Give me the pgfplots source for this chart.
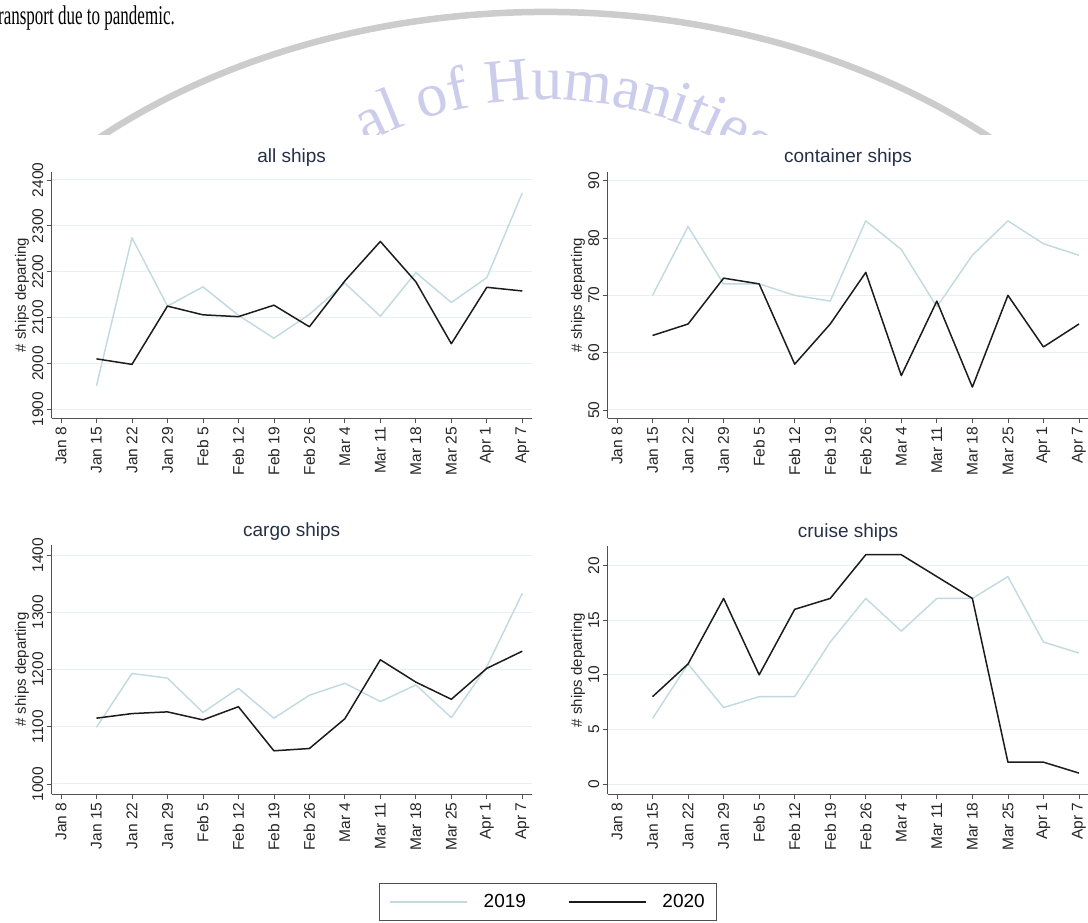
\documentclass[border=0pt]{standalone}
\usepackage{pgfplots}
\usepackage{pgfplotstable}
\pgfplotsset{compat=1.18}
\usepackage{fontspec}
\setmainfont{Liberation Sans}
\newfontfamily\seriffont{Liberation Serif}
\usetikzlibrary{decorations.text}

\definecolor{c19}{RGB}{192,218,224}
\definecolor{c20}{RGB}{28,28,28}
\definecolor{gridc}{RGB}{234,239,241}
\definecolor{axisc}{RGB}{80,80,80}
\definecolor{titlec}{RGB}{38,48,72}
\definecolor{wmtext}{RGB}{204,204,236}
\definecolor{wmarc}{RGB}{204,204,204}

\pgfplotstableread{
x a19 a20 c19 c20 g19 g20 r19 r20
1  1951 2010 70 63 1099 1115 6  8
2  2274 1998 82 65 1193 1123 11 11
3  2125 2125 72 73 1185 1126 7  17
4  2167 2106 72 72 1125 1112 8  10
5  2105 2102 70 58 1167 1135 8  16
6  2055 2127 69 65 1115 1058 13 17
7  2107 2080 83 74 1155 1062 17 21
8  2175 2180 78 56 1176 1114 14 21
9  2103 2266 68 69 1144 1217 17 19
10 2198 2178 77 54 1173 1178 17 17
11 2133 2043 83 70 1116 1148 19 2
12 2187 2166 79 61 1205 1202 13 2
13 2372 2158 77 65 1333 1232 12 1
}\data

\pgfplotsset{
  every axis title/.style={at={(axis description cs:0.5,1)}, anchor=base, yshift=9pt,
    font=\fontsize{19}{19}\selectfont, color=titlec},
  every axis y label/.style={at={(axis description cs:0,0.5)}, xshift=-29.7pt,
    rotate=90, anchor=center, font=\fontsize{15}{15}\selectfont, color=black!85},
  panel/.style={
    scale only axis,
    xmin=-0.262, xmax=13.265,
    xtick={0,...,13},
    xticklabels={Jan 8,Jan 15,Jan 22,Jan 29,Feb 5,Feb 12,Feb 19,Feb 26,Mar 4,Mar 11,Mar 18,Mar 25,Apr 1,Apr 7},
    axis x line*=bottom, axis y line*=left,
    axis line style={axisc, line width=0.9pt, -},
    tick style={axisc, line width=0.8pt},
    tick align=outside, major tick length=5pt,
    ymajorgrids, grid style={gridc, line width=1pt},
    /pgf/number format/assume math mode=true,
    /pgf/number format/1000 sep={},
    xticklabel style={rotate=90, anchor=east, font=\fontsize{15.5}{15.5}\selectfont, color=black!85},
    yticklabel style={rotate=90, anchor=south, font=\fontsize{15.5}{15.5}\selectfont, color=black!85},
    ylabel={\# ships departing},
    clip=false,
  },
  y19/.style={c19, line width=1.4pt, line join=round},
  y20/.style={c20, line width=1.5pt, line join=round},
}

\begin{document}
\begin{tikzpicture}
\path[use as bounding box] (0pt,0pt) rectangle (1088pt,-922pt);
\fill[white] (0pt,0pt) rectangle (1088pt,-922pt);

% page text and watermark
\node[anchor=base west, inner sep=0pt, xscale=0.63, font=\seriffont\fontsize{27}{27}\selectfont] at (-2pt,-24pt) {ransport due to pandemic.};
\begin{scope}
  \clip (0pt,0pt) rectangle (1088pt,-134pt);
  \draw[wmarc, line width=6.5pt] (545pt,-492pt) ++(150:660pt and 480pt) arc[start angle=150, end angle=30, x radius=660pt, y radius=480pt];
  \path[decorate, decoration={text along path, text align=center,
      text={|\seriffont\fontsize{62}{62}\selectfont\color{wmtext}|al of Humanities}}]
      (545pt,-492pt) ++(127:392pt) arc[start angle=127, end angle=47, radius=392pt];
\end{scope}

% all ships
\begin{axis}[panel, at={(51.7pt,-418.3pt)}, anchor=south west, width=480pt, height=246.6pt,
  ymin=1880.4, ymax=2418, ytick={1900,2000,...,2400}, title={all ships}]
  \addplot[y19] table[x=x,y=a19] {\data};
  \addplot[y20] table[x=x,y=a20] {\data};
\end{axis}

% container ships
\begin{axis}[panel, at={(607.7pt,-418.3pt)}, anchor=south west, width=480.7pt, height=246.6pt,
  ymin=48.55, ymax=91.57, ytick={50,60,...,90}, title={container ships}]
  \addplot[y19] table[x=x,y=c19] {\data};
  \addplot[y20] table[x=x,y=c20] {\data};
\end{axis}

% cargo ships
\begin{axis}[panel, at={(51.7pt,-794pt)}, anchor=south west, width=480pt, height=249pt,
  ymin=982.5, ymax=1417.5, ytick={1000,1100,...,1400}, title={cargo ships},
  legend columns=2,
  legend style={at={(1.034,-0.4337)}, anchor=center, draw=axisc, line width=0.8pt,
    font=\fontsize{19}{19}\selectfont, inner xsep=10pt, inner ysep=9pt,
    /tikz/every odd column/.append style={column sep=14pt},
    /tikz/every even column/.append style={column sep=40pt}},
  legend image code/.code={\draw[#1] (0pt,0pt) -- (77pt,0pt);}]
  \addplot[y19] table[x=x,y=g19] {\data};
  \addplot[y20] table[x=x,y=g20] {\data};
  \legend{2019,2020}
\end{axis}

% cruise ships
\begin{axis}[panel, at={(607.7pt,-794pt)}, anchor=south west, width=480.7pt, height=248pt,
  ymin=-0.916, ymax=21.8, ytick={0,5,...,20}, title={cruise ships}]
  \addplot[y19] table[x=x,y=r19] {\data};
  \addplot[y20] table[x=x,y=r20] {\data};
\end{axis}
\end{tikzpicture}
\end{document}
